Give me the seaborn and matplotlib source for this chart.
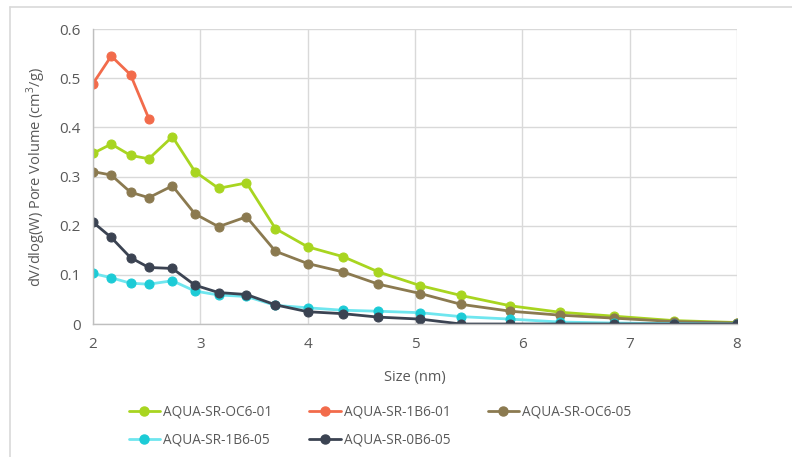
import pandas as pd
import numpy as np
import seaborn as sns
import matplotlib.pyplot as plt
from matplotlib.lines import Line2D

# Pore sizes (nm)
size = [2.0, 2.17, 2.35, 2.52, 2.74, 2.95, 3.17, 3.43, 3.70, 4.0,
        4.33, 4.66, 5.05, 5.43, 5.89, 6.35, 6.85, 7.41, 8.0]

# dV/dlog(W) per sample
oc6_01 = [0.347, 0.366, 0.343, 0.336, 0.381, 0.310, 0.276, 0.287, 0.194, 0.157,
          0.137, 0.106, 0.078, 0.058, 0.037, 0.024, 0.016, 0.007, 0.003]
b16_01 = [0.489, 0.545, 0.507, 0.418]
oc6_05 = [0.310, 0.303, 0.268, 0.257, 0.281, 0.224, 0.198, 0.218, 0.148, 0.123,
          0.106, 0.081, 0.062, 0.040, 0.026, 0.018, 0.012, 0.005, 0.002]
b16_05 = [0.103, 0.094, 0.083, 0.081, 0.088, 0.067, 0.059, 0.056, 0.038, 0.033,
          0.028, 0.026, 0.023, 0.015, 0.010, 0.004, 0.002, 0.001, 0.0]
b06_05 = [0.207, 0.176, 0.135, 0.115, 0.113, 0.079, 0.064, 0.060, 0.039, 0.025,
          0.021, 0.014, 0.010, 0.0, 0.0, 0.0, 0.0, 0.0, 0.0]

series = [
    ('AQUA-SR-OC6-01', oc6_01, '#a8d520', '#a8d520'),
    ('AQUA-SR-1B6-01', b16_01, '#f26b4b', '#f26b4b'),
    ('AQUA-SR-OC6-05', oc6_05, '#8b7a50', '#8b7a50'),
    ('AQUA-SR-1B6-05', b16_05, '#6fe6ef', '#1ccbd6'),
    ('AQUA-SR-0B6-05', b06_05, '#3b4352', '#3b4352'),
]

sns.set_style('white')
plt.rcParams['font.family'] = ['Open Sans', 'DejaVu Sans']
plt.rcParams['mathtext.fontset'] = 'custom'
plt.rcParams['mathtext.rm'] = 'Open Sans'

fig = plt.figure(figsize=(7.92, 4.57), dpi=100)
ax = fig.add_axes([0.1174, 0.2910, 0.8131, 0.6455])

handles = {}
for name, vals, lc, mc in series:
    df = pd.DataFrame({'size': size[:len(vals)], 'vol': vals})
    sns.lineplot(data=df, x='size', y='vol', ax=ax, color=lc, linewidth=2.0,
                 marker='o', markersize=6.5, markerfacecolor=mc,
                 markeredgecolor=mc, sort=False)
    handles[name] = Line2D([], [], color=lc, linewidth=2.0, marker='o',
                           markersize=6.5, markerfacecolor=mc, markeredgecolor=mc)

ax.set_xlim(2, 8)
ax.set_ylim(0, 0.6)
ax.set_xticks(range(2, 9))
ax.set_yticks([0, 0.1, 0.2, 0.3, 0.4, 0.5, 0.6])
ax.set_yticklabels(['0', '0.1', '0.2', '0.3', '0.4', '0.5', '0.6'])
ax.grid(True, color='#d9d9d9', linewidth=1.0)
ax.set_axisbelow(True)
for s in ['top', 'right']:
    ax.spines[s].set_visible(False)
for s in ['left', 'bottom']:
    ax.spines[s].set_color('#bfbfbf')
    ax.spines[s].set_linewidth(1.0)
ax.tick_params(length=0, labelsize=11, labelcolor='#595959', pad=9)
ax.set_xlabel('Size (nm)', fontsize=10.5, color='#595959', labelpad=13)
ax.set_ylabel('dV/dlog(W) Pore Volume (cm$^\\mathregular{3}$/g)', fontsize=10.5,
              color='#595959', labelpad=8)

# legend, column-major ordering to get row-wise layout
order = ['AQUA-SR-OC6-01', 'AQUA-SR-1B6-05', 'AQUA-SR-1B6-01',
         'AQUA-SR-0B6-05', 'AQUA-SR-OC6-05']
fig.legend([handles[n] for n in order], order, ncol=3, loc='upper left',
           bbox_to_anchor=(0.154, 0.130), frameon=False, fontsize=9.8,
           labelcolor='#595959', handlelength=2.3, handletextpad=0.25,
           columnspacing=2.7, labelspacing=0.95, borderpad=0)

# chart-area border (left and top visible)
fig.add_artist(Line2D([10 / 792, 10 / 792], [0, 1 - 7 / 457],
                      transform=fig.transFigure, color='#d9d9d9', linewidth=1.2))
fig.add_artist(Line2D([10 / 792, 1], [1 - 7 / 457, 1 - 7 / 457],
                      transform=fig.transFigure, color='#d9d9d9', linewidth=1.2))

fig.savefig('out.png', dpi=100)
